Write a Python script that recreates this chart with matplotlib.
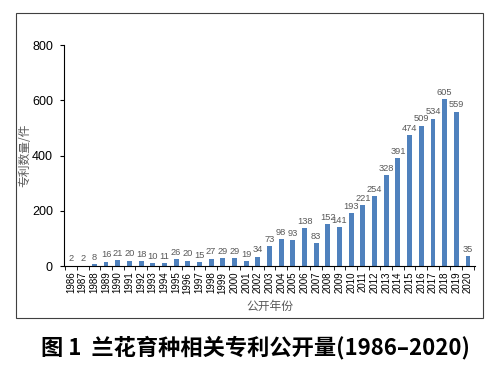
import matplotlib.pyplot as plt
from matplotlib.patches import Rectangle

plt.rcParams['font.family'] = ['Noto Sans CJK SC', 'DejaVu Sans']

years = [str(y) for y in range(1986, 2021)]
counts = [2, 2, 8, 16, 21, 20, 18, 10, 11, 26, 20, 15, 27, 29, 29, 19, 34, 73,
          98, 93, 138, 83, 152, 141, 193, 221, 254, 328, 391, 474, 509, 534,
          605, 559, 35]

num_font = ['Liberation Sans Narrow', 'Liberation Sans', 'DejaVu Sans']

fig = plt.figure(figsize=(5, 3.67), dpi=100)
ax = fig.add_axes([0.128, 0.275, 0.822, 0.602])

x = range(len(years))
ax.bar(x, counts, width=0.42, color='#4F81BD')
for i, v in enumerate(counts):
    ax.text(i, v + 8, str(v), ha='center', va='bottom', fontsize=6.7,
            color='#595959', family=num_font)

ax.set_xlim(-0.6, len(years) - 0.4)
ax.set_ylim(0, 800)
ax.set_yticks([0, 200, 400, 600, 800])
ax.set_yticklabels(['0', '200', '400', '600', '800'], fontsize=9,
                   family=num_font)
ax.set_xticks(list(x))
ax.set_xticklabels(years, rotation=90, fontsize=7, family=num_font)
ax.set_xticks([i - 0.5 for i in range(len(years) + 1)], minor=True)
ax.tick_params(axis='x', which='major', length=0, pad=4)
ax.tick_params(axis='x', which='minor', length=3, direction='out')
ax.tick_params(axis='y', length=3, direction='out', pad=5)
ax.spines['top'].set_visible(False)
ax.spines['right'].set_visible(False)

ax.set_xlabel('公开年份', fontsize=8.5, color='#595959', labelpad=5)
ax.set_ylabel('专利数量/件', fontsize=8.5, color='#595959')
ax.yaxis.set_label_coords(-0.08, 0.5)

# chart border
fig.patches.append(Rectangle((0.032, 0.133), 0.934, 0.832, transform=fig.transFigure,
                             fill=False, edgecolor='#404040', linewidth=0.8))

fig.text(0.51, 0.052, '图 1  兰花育种相关专利公开量(1986–2020)', ha='center',
         va='center', fontsize=16, fontweight='bold')

fig.savefig('out.png', dpi=100)
